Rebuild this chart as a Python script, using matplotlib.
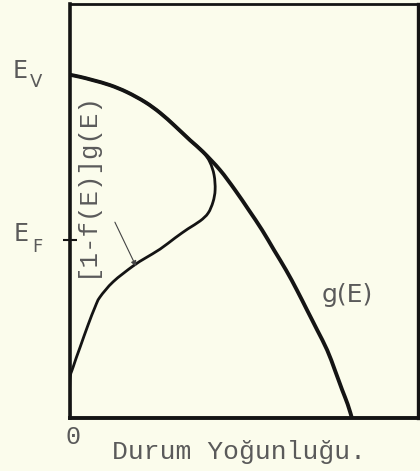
import numpy as np
import matplotlib
matplotlib.use("Agg")
import matplotlib.pyplot as plt
from matplotlib.path import Path
from matplotlib.patches import PathPatch

# density of states g(E) in the valence band (x: density, y: energy)
g_x = [0, 0.29, 0.66, 1.15, 1.64, 2.16, 2.59, 3.02, 3.45, 3.82, 4.31, 4.74,
       5.14, 5.52, 5.86, 6.21, 6.52, 6.81, 7.10, 7.39, 7.61, 7.82, 7.98, 8.10]
g_y = [8.29, 8.24, 8.16, 8.04, 7.87, 7.63, 7.37, 7.05, 6.71, 6.43, 5.99, 5.51,
       5.02, 4.54, 4.06, 3.57, 3.09, 2.61, 2.13, 1.64, 1.16, 0.68, 0.33, 0.0]

# hole distribution [1-f(E)]g(E)
h_x = [0, 0.29, 0.66, 1.15, 1.64, 2.16, 2.59, 3.02, 3.45, 3.82, 4.02, 4.14,
       4.17, 4.11, 3.97, 3.74, 3.39, 3.02, 2.59, 2.16, 1.81, 1.24, 0.86, 0.72,
       0.52, 0.29, 0.09, 0, 0]
h_y = [8.29, 8.24, 8.16, 8.04, 7.87, 7.63, 7.37, 7.05, 6.71, 6.43, 6.18, 5.87,
       5.51, 5.22, 4.95, 4.76, 4.57, 4.35, 4.08, 3.86, 3.67, 3.29, 2.92, 2.68,
       2.25, 1.71, 1.23, 0.92, 0.0]

E_V = 8.29
E_F = 4.30

ink = "#141414"
txt = "#5a5a5a"
paper = "#fbfcec"


def smooth_path(xs, ys):
    # catmull-rom through the points, written as cubic bezier segments
    p = np.column_stack([xs, ys]).astype(float)
    p = np.vstack([p[0], p, p[-1]])
    verts = [p[1]]
    codes = [Path.MOVETO]
    for i in range(1, len(p) - 2):
        c1 = p[i] + (p[i + 1] - p[i - 1]) / 6
        c2 = p[i + 1] - (p[i + 2] - p[i]) / 6
        verts += [c1, c2, p[i + 1]]
        codes += [Path.CURVE4] * 3
    return Path(verts, codes)


fig = plt.figure(figsize=(4.2, 4.71), dpi=100, facecolor=paper)
ax = fig.add_axes([70 / 420, 53 / 471, 348 / 420, 414 / 471], facecolor=paper)
ax.set_xlim(0, 10)
ax.set_ylim(0, 10)

ax.add_patch(PathPatch(smooth_path(g_x, g_y), fill=False, edgecolor=ink, lw=2.8,
                       capstyle="round", joinstyle="round"))
ax.add_patch(PathPatch(smooth_path(h_x, h_y), fill=False, edgecolor=ink, lw=2.0,
                       capstyle="round", joinstyle="round"))

for side, w in (("left", 2.6), ("bottom", 2.8), ("top", 2.0), ("right", 2.4)):
    ax.spines[side].set_linewidth(w)
    ax.spines[side].set_color(ink)

ax.set_xticks([])
ax.set_yticks([E_F])
ax.set_yticklabels([])
ax.tick_params(axis="y", direction="inout", length=10, width=1.5, color=ink)

# energy labels
ax.text(-1.44, E_V + 0.09, "E", fontsize=17, color=txt, ha="center", va="center",
        clip_on=False)
ax.text(-0.98, E_V - 0.17, "V", fontsize=13, color=txt, ha="center", va="center",
        clip_on=False)
ax.text(-1.41, E_F + 0.14, "E", fontsize=17, color=txt, ha="center", va="center",
        clip_on=False)
ax.text(-0.95, E_F - 0.17, "F", fontsize=13, color=txt, ha="center", va="center",
        clip_on=False)

ax.text(0.1, -0.46, "0", fontsize=18, color=txt, ha="center", va="center",
        family="Liberation Mono", clip_on=False)
ax.text(4.86, -0.82, "Durum Yoğunluğu.", fontsize=19, color=txt, ha="center",
        va="center", family="Liberation Mono", clip_on=False)

ax.text(0.47, 5.65, "[1-f(E)]g(E)", fontsize=18.5, color=txt, rotation=90,
        ha="center", va="center", family="Liberation Mono")
ax.text(7.96, 2.97, "g(E)", fontsize=18, color=txt, ha="center", va="center")

ax.annotate("", xy=(1.9, 3.66), xytext=(1.29, 4.73),
            arrowprops=dict(arrowstyle="-|>", color="#444444", lw=0.8,
                            mutation_scale=8, shrinkA=0, shrinkB=0))

fig.savefig("out.png", dpi=100, facecolor=paper)
